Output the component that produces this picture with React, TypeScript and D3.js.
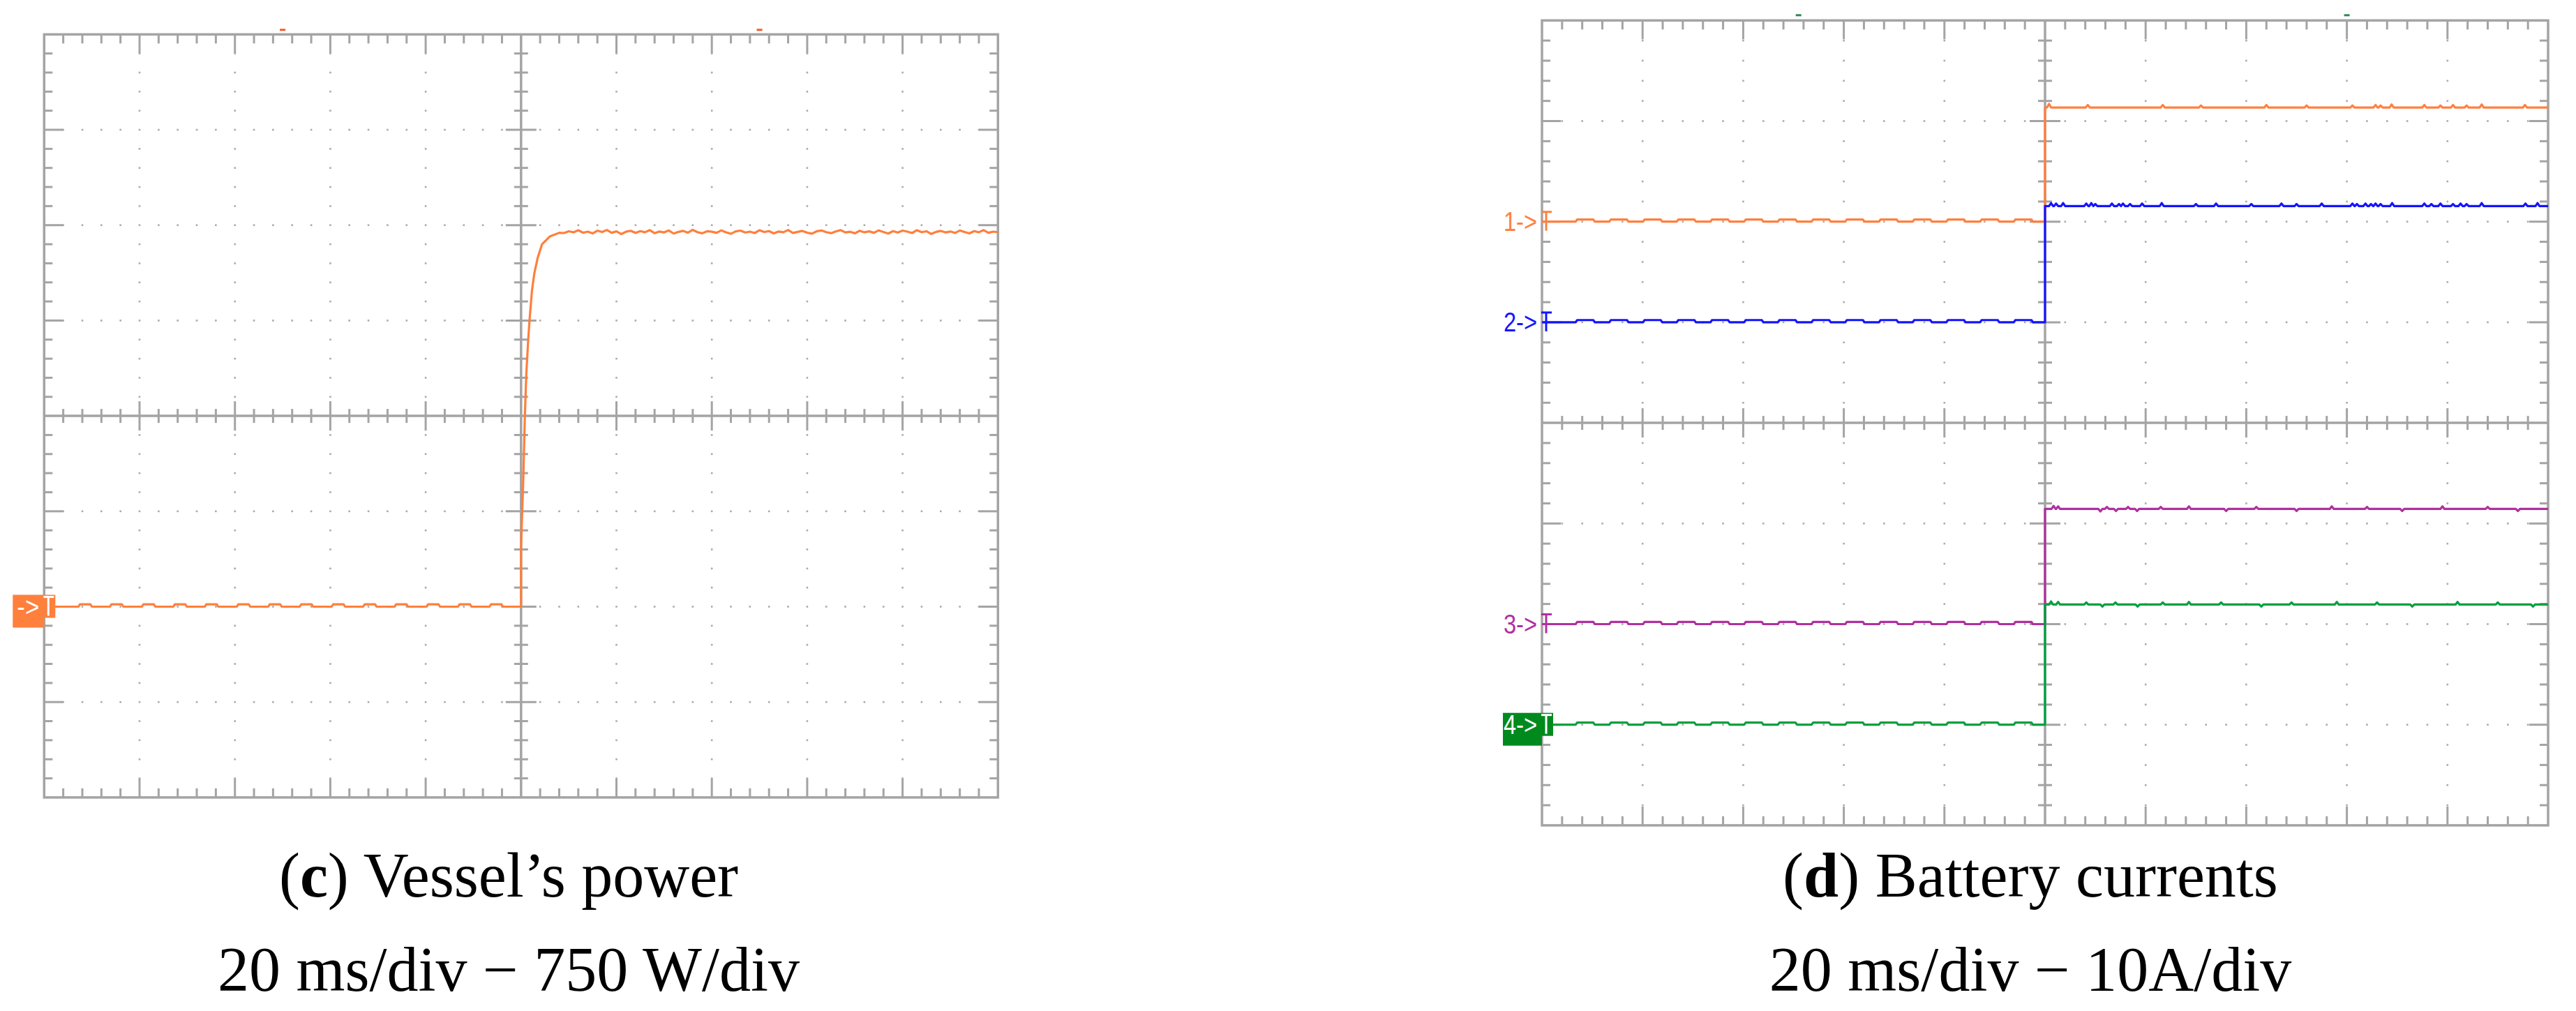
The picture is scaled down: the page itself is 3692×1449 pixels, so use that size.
import { useMemo } from "react";
import * as d3 from "d3";

const width = 3692;
const height = 1449;

// scope time base: 10 div x 20 ms, trigger in the centre
const timeDomain: [number, number] = [-100, 100];
const triggerMarksC = [-50, 50];
const triggerMarksD = [-49, 60];

// (c) vessel's power, 750 W/div, zero marker 2 div above the bottom
const powerDomain: [number, number] = [-1500, 4500];
const powerRippleMs = [-91.4, -84.8, -78.1, -71.5, -64.9, -58.2, -51.6, -45.0, -38.3, -31.7, -25.1, -18.4, -11.8, -5.2];
const powerRippleW = 18;
const powerRise: [number, number][] = [
  [0, 0], [0, 465], [0.5, 1050], [0.8, 1500], [1.1, 1830], [1.5, 2100], [1.8, 2265],
  [2.3, 2490], [2.8, 2625], [3.5, 2745], [4.4, 2850], [6, 2910], [8, 2940],
];
const plateauStartMs = 9;
// one reading per ms, 9..100 ms
const powerPlateau = [
  2938, 2952, 2944, 2960, 2941, 2949, 2935, 2957, 2946, 2962,
  2940, 2951, 2930, 2948, 2956, 2939, 2953, 2944, 2961, 2937,
  2950, 2943, 2958, 2934, 2947, 2955, 2941, 2963, 2945, 2936,
  2952, 2948, 2940, 2959, 2944, 2932, 2951, 2957, 2942, 2949,
  2938, 2960, 2946, 2953, 2935, 2950, 2944, 2962, 2939, 2947,
  2955, 2941, 2933, 2952, 2958, 2945, 2937, 2950, 2961, 2943,
  2948, 2936, 2956, 2944, 2951, 2940, 2959, 2946, 2934, 2953,
  2942, 2957, 2949, 2938, 2960, 2945, 2952, 2931, 2947, 2955,
  2943, 2950, 2939, 2958, 2946, 2935, 2953, 2944, 2961, 2940,
  2949, 2945,
];

// (d) battery currents, 10 A/div
const channelLabels = ["1->", "2->", "3->", "4->"];
const channelOffsetDiv = [2, 3, 6, 7];
const currentAfter = [11.35, 11.55, 11.45, 11.95];
const currentRippleMs = [-91.4, -84.7, -78.0, -71.3, -64.6, -57.9, -51.2, -44.5, -37.8, -31.1, -24.4, -17.7, -11.0, -4.3];
const currentRippleA = 0.22;
const currentBlips: [number, number][][] = [
  [[0.8, 0.35], [8.5, 0.25], [23.4, 0.25], [31, 0.2], [44, 0.25], [52, 0.2], [61.1, 0.2], [65.7, 0.25], [66.7, 0.2], [68.9, 0.3], [75.4, 0.25], [78.6, 0.2], [81.1, 0.25], [83.8, 0.2], [86.8, 0.3], [95.4, 0.25]],
  [[1.2, 0.3], [2.2, 0.25], [3.6, 0.3], [8.2, 0.25], [9.2, 0.3], [10, 0.2], [13.3, 0.25], [14.7, 0.2], [15.5, 0.25], [16.9, 0.2], [19.3, 0.25], [23.2, 0.3], [30, 0.2], [34, 0.25], [41, 0.2], [47, 0.25], [50, 0.2], [55, 0.25], [61.1, 0.25], [62, 0.2], [63.7, 0.25], [64.8, 0.2], [65.7, 0.25], [66.7, 0.2], [69, 0.3], [75.4, 0.25], [76.8, 0.2], [78.6, 0.25], [81.1, 0.2], [82.6, 0.25], [83.8, 0.2], [86.8, 0.3], [95.5, 0.25], [97.9, 0.3]],
  [[1.7, 0.3], [2.6, 0.25], [11, -0.25], [12.3, 0.2], [14.1, -0.2], [16.5, 0.2], [18.3, -0.2], [23, 0.2], [28.6, 0.25], [36, -0.2], [42, 0.2], [50, -0.2], [57, 0.25], [64, 0.2], [71, -0.2], [79, 0.25], [88, 0.2], [94, -0.2]],
  [[1.2, 0.3], [2.6, 0.25], [8.2, 0.2], [11.4, -0.2], [14, 0.2], [18.4, -0.2], [23.4, 0.2], [28.6, 0.25], [35, 0.2], [43, -0.2], [49, 0.2], [58, 0.25], [66, 0.2], [73, -0.2], [82, 0.25], [90, 0.2], [97, -0.2]],
];

const captionC = ["c", " Vessel\u2019s power", "20 ms/div \u2212 750 W/div"];
const captionD = ["d", " Battery currents", "20 ms/div \u2212 10A/div"];

// layout
const panelC = { x: 63.3, y: 49.3, div: 136.7 };
const panelD = { x: 2210, y: 29.3, div: 144.2 };
const channelColors = ["#ff8040", "#1414ff", "#b0309f", "#00a040"];
const gridColor = "#a4a4a4";
const traceOrange = "#ff7f3c";

type Panel = { x: number; y: number; div: number };
type Seg = [number, number, number, number];

const Graticule = ({ x, y, div }: Panel) => {
  const gx = d3.scaleLinear().domain([0, 10]).range([x, x + 10 * div]);
  const gy = d3.scaleLinear().domain([0, 8]).range([y, y + 8 * div]);
  const xs = d3.range(1, 50).map((i) => i / 5);
  const ys = d3.range(1, 40).map((i) => i / 5);
  const major = (v: number) => Math.abs(v - Math.round(v)) < 1e-6;

  const ticks: Seg[] = [];
  xs.forEach((v) => {
    if (Math.abs(v - 5) < 1e-6) return;
    const len = major(v) ? 27 : 13;
    ticks.push([gx(v), gy(0), gx(v), gy(0) + len]);
    ticks.push([gx(v), gy(8), gx(v), gy(8) - len]);
    const h = major(v) ? 21 : 10;
    ticks.push([gx(v), gy(4) - h, gx(v), gy(4) + h]);
  });
  ys.forEach((v) => {
    if (Math.abs(v - 4) < 1e-6) return;
    const len = major(v) ? 27 : 12;
    ticks.push([gx(0), gy(v), gx(0) + len, gy(v)]);
    ticks.push([gx(10), gy(v), gx(10) - len, gy(v)]);
    const h = major(v) ? 22 : 10;
    ticks.push([gx(5) - h, gy(v), gx(5) + h, gy(v)]);
  });

  const dots: [number, number][] = [];
  d3.range(1, 10)
    .filter((i) => i !== 5)
    .forEach((i) => ys.forEach((v) => { if (!major(v)) dots.push([gx(i), gy(v)]); }));
  d3.range(1, 8)
    .filter((j) => j !== 4)
    .forEach((j) => xs.forEach((v) => dots.push([gx(v), gy(j)])));

  return (
    <g>
      {dots.map(([cx, cy], i) => (
        <rect key={i} x={cx - 1.3} y={cy - 1.3} width={2.6} height={2.6} fill="#ababab" />
      ))}
      <g stroke={gridColor} strokeWidth={3}>
        {ticks.map(([x1, y1, x2, y2], i) => (
          <line key={i} x1={x1} y1={y1} x2={x2} y2={y2} />
        ))}
        <line x1={gx(5)} y1={gy(0)} x2={gx(5)} y2={gy(8)} strokeWidth={3.5} />
        <line x1={gx(0)} y1={gy(4)} x2={gx(10)} y2={gy(4)} strokeWidth={3.5} />
        <rect x={gx(0)} y={gy(0)} width={gx(10) - gx(0)} height={gy(8) - gy(0)} fill="none" strokeWidth={3.5} />
      </g>
    </g>
  );
};

type MarkerProps = { x0: number; y: number; label: string; color: string; boxed: boolean; boxW: number };

const ChannelMarker = ({ x0, y, label, color, boxed, boxW }: MarkerProps) => {
  const ink = boxed ? "#ffffff" : color;
  return (
    <g>
      {boxed && (
        <>
          <rect x={x0 - boxW} y={y - 17} width={boxW} height={47} fill={color} />
          <rect x={x0} y={y - 17} width={16} height={33} fill={color} />
        </>
      )}
      <text
        x={x0 - 7}
        y={y + 13}
        textAnchor="end"
        fill={ink}
        fontFamily="Liberation Sans, Arial, sans-serif"
        fontSize={38}
        textLength={label.length * 16}
        lengthAdjust="spacingAndGlyphs"
      >
        {label}
      </text>
      <g stroke={ink} strokeWidth={3}>
        <line x1={x0 - 1} y1={y - 14} x2={x0 + 14} y2={y - 14} />
        <line x1={x0 + 6} y1={y - 14} x2={x0 + 6} y2={y + 13} />
      </g>
    </g>
  );
};

const withRipple = (ms: number[], h: number, half: number): [number, number][] => {
  const pts: [number, number][] = [[timeDomain[0], 0]];
  ms.forEach((r) => {
    pts.push([r - half - 0.3, 0], [r - half, h], [r + half, h], [r + half + 0.3, 0]);
  });
  pts.push([0, 0]);
  return pts;
};

const App = () => {
  const { powerPath, cx, currentPaths, dx, channelY } = useMemo(() => {
    const cx = d3.scaleLinear().domain(timeDomain).range([panelC.x, panelC.x + 10 * panelC.div]);
    const cy = d3.scaleLinear().domain(powerDomain).range([panelC.y + 8 * panelC.div, panelC.y]);
    const pts: [number, number][] = [
      ...withRipple(powerRippleMs, powerRippleW, 1.1),
      ...powerRise,
      ...powerPlateau.map((v, i) => [plateauStartMs + i, v] as [number, number]),
    ];
    const powerPath = d3.line<[number, number]>().x((d) => cx(d[0])).y((d) => cy(d[1]))(pts) ?? "";

    const dx = d3.scaleLinear().domain(timeDomain).range([panelD.x, panelD.x + 10 * panelD.div]);
    const divY = d3.scaleLinear().domain([0, 8]).range([panelD.y, panelD.y + 8 * panelD.div]);
    const channelY = channelOffsetDiv.map((off) =>
      d3.scaleLinear().domain([0, 10]).range([divY(off), divY(off - 1)])
    );
    const currentPaths = channelLabels.map((_, k) => {
      const after = currentAfter[k];
      const p: [number, number][] = [...withRipple(currentRippleMs, currentRippleA, 1.6), [0, after]];
      currentBlips[k].forEach(([t, d]) => {
        p.push([t - 0.4, after], [t, after + d], [t + 0.4, after]);
      });
      p.push([timeDomain[1], after]);
      return d3.line<[number, number]>().x((d) => dx(d[0])).y((d) => channelY[k](d[1]))(p) ?? "";
    });
    return { powerPath, cx, currentPaths, dx, channelY };
  }, []);

  const serif = "Liberation Serif, Times New Roman, serif";
  const caption = (c: string[], centre: number) => (
    <g fontFamily={serif} fontSize={90} fill="#000" textAnchor="middle">
      <text x={centre} y={1285}>
        (<tspan fontWeight="bold">{c[0]}</tspan>){c[1]}
      </text>
      <text x={centre} y={1420}>{c[2]}</text>
    </g>
  );

  const zeroC = d3.scaleLinear().domain(powerDomain).range([panelC.y + 8 * panelC.div, panelC.y])(0);

  return (
    <svg
      width={width}
      height={height}
      style={{ position: "absolute", left: 0, top: 0, background: "#fff" }}
    >
      <rect width={width} height={height} fill="#fff" />

      {/* (c) vessel's power */}
      <Graticule {...panelC} />
      {triggerMarksC.map((t, i) => (
        <rect key={i} x={cx(t) - 4} y={panelC.y - 8} width={8} height={3} fill="#f05a28" />
      ))}
      <path d={powerPath} fill="none" stroke={traceOrange} strokeWidth={3.2} strokeLinejoin="round" />
      <ChannelMarker x0={panelC.x} y={zeroC} label="->" color="#ff7f3c" boxed boxW={45} />

      {/* (d) battery currents */}
      <Graticule {...panelD} />
      {triggerMarksD.map((t, i) => (
        <rect key={i} x={dx(t) - 4} y={panelD.y - 9} width={8} height={3} fill="#2e8b57" />
      ))}
      {currentPaths.map((d, k) => (
        <path key={k} d={d} fill="none" stroke={channelColors[k]} strokeWidth={3.2} strokeLinejoin="round" />
      ))}
      {channelLabels.map((label, k) => (
        <ChannelMarker
          key={k}
          x0={panelD.x}
          y={channelY[k](0)}
          label={label}
          color={k === 3 ? "#008a1e" : channelColors[k]}
          boxed={k === 3}
          boxW={56}
        />
      ))}

      {caption(captionC, 729)}
      {caption(captionD, 2910)}
    </svg>
  );
};

export default App;
